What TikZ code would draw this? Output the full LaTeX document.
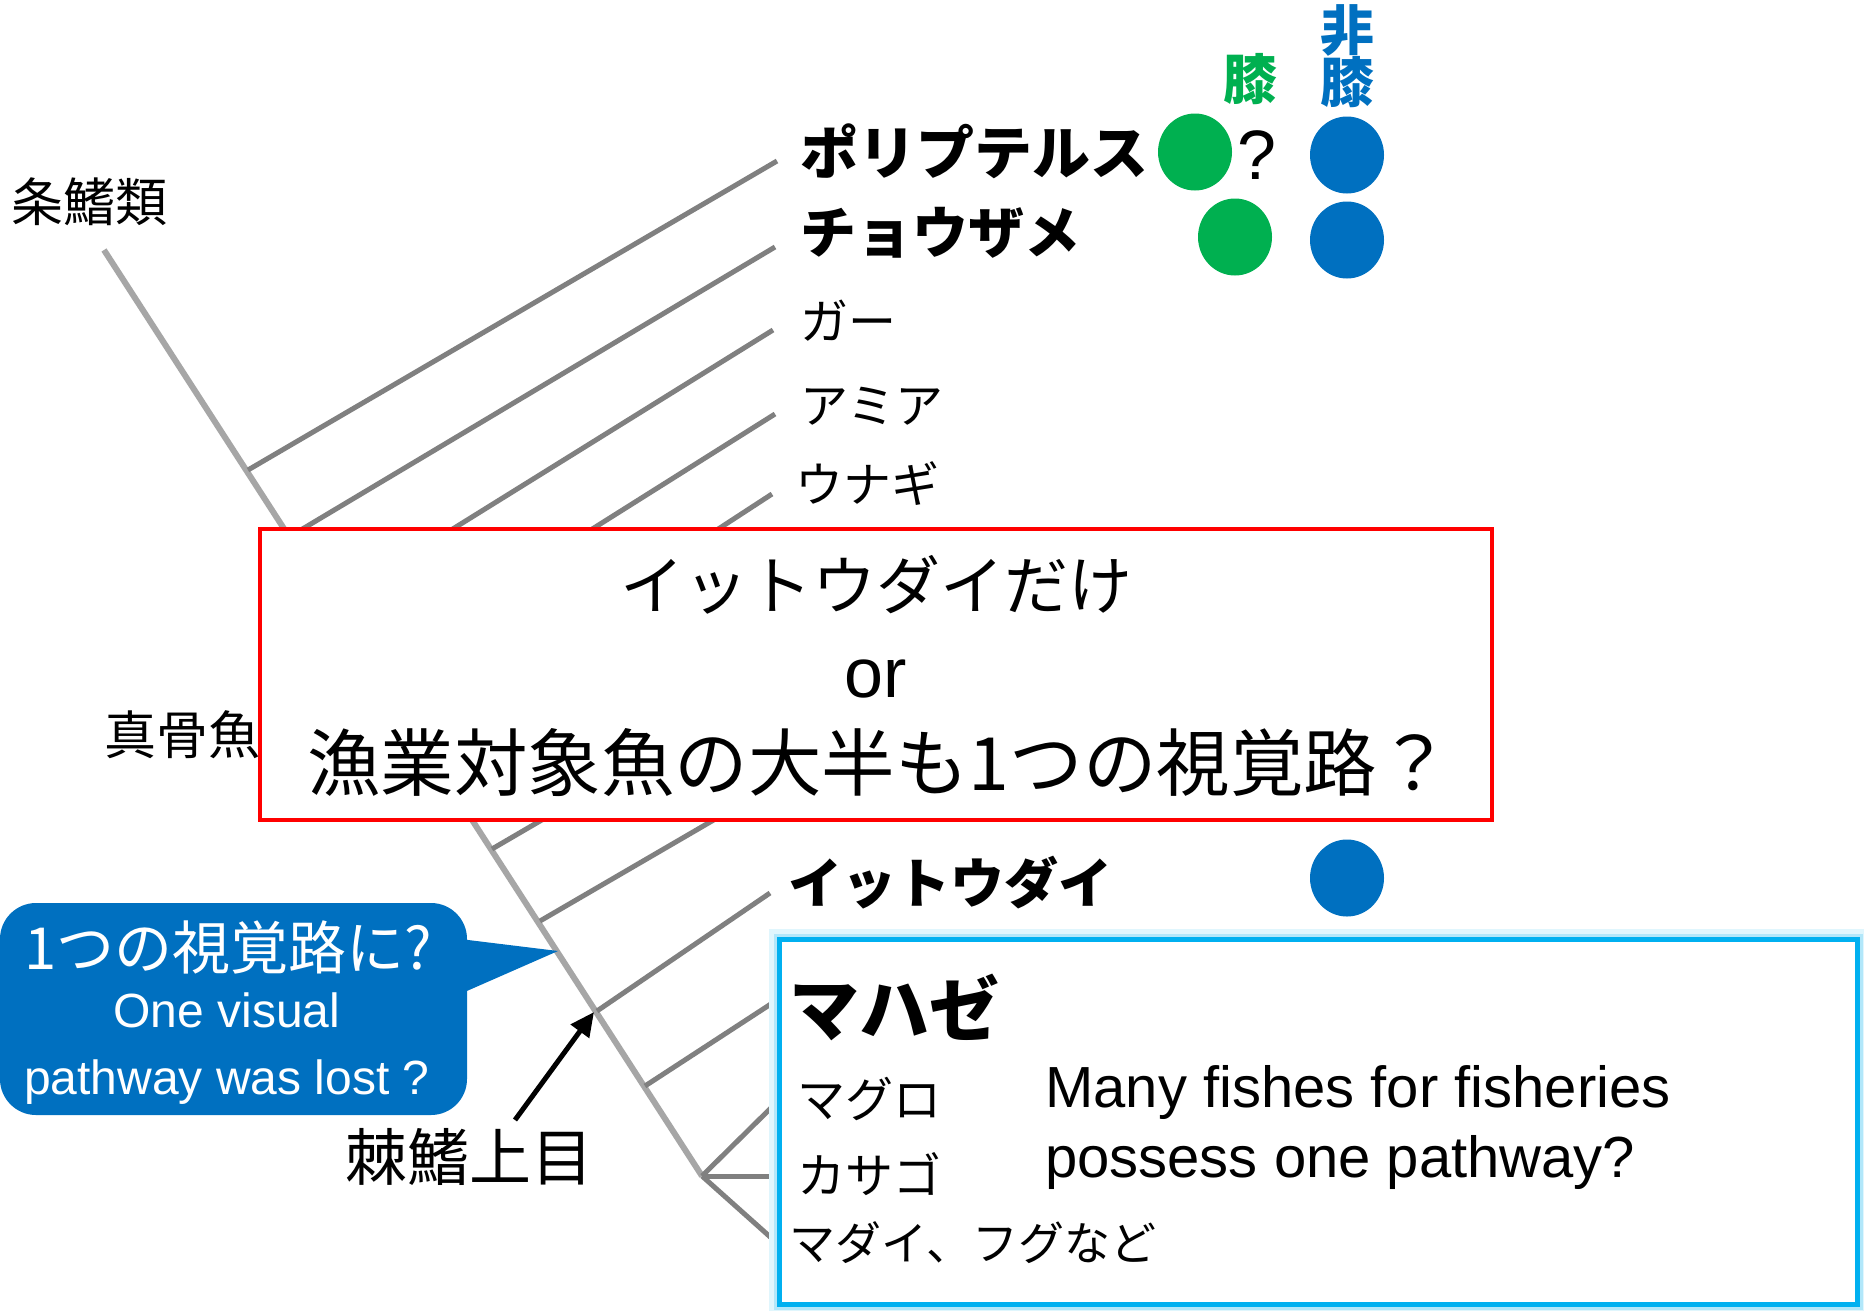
\documentclass[tikz,border=0pt]{standalone}
\usepackage{fontspec}
\setmainfont{Liberation Sans}
\newfontfamily\jp{Noto Sans CJK JP}
\usetikzlibrary{arrows.meta,shapes.geometric}
\definecolor{trunkgray}{HTML}{A6A6A6}
\definecolor{brgray}{HTML}{808080}
\definecolor{boxred}{HTML}{FF0000}
\definecolor{dotgreen}{HTML}{00B050}
\definecolor{dotblue}{HTML}{0070C0}
\definecolor{boxcyan}{HTML}{00B0F0}
\newcommand\fsz[1]{\fontsize{#1}{#1}\selectfont}
\tikzset{
  trunk/.style={draw=trunkgray, line width=6pt},
  branch/.style={draw=brgray, line width=5pt},
  jl/.style={inner sep=0pt, anchor=west, font={\jp\fsz{#1}}},
  jb/.style={inner sep=0pt, anchor=west, font={\jp\bfseries\fsz{#1}}},
  dot/.style={fill=#1, draw=none, ellipse, minimum width=74pt, minimum height=77pt},
}
\begin{document}
\begin{tikzpicture}[x=1pt,y=-1pt]
\useasboundingbox (0,0) rectangle (1864,1310);
\fill[white] (0,0) rectangle (1864,1310);

% trunk
\coordinate (root) at (104,250);
\coordinate (tip) at (702,1176);
\draw[trunk] (root) -- (tip);

% branch points on trunk and tips
\coordinate (n1) at (248,470);  \coordinate (t1) at (777,161);
\coordinate (n2) at (289,537);  \coordinate (t2) at (775,247);
\coordinate (n3) at (332,604);  \coordinate (t3) at (773,330);
\coordinate (n4) at (373,667);  \coordinate (t4) at (775,414);
\coordinate (n5) at (413,728);  \coordinate (t5) at (772,494);
\coordinate (n6) at (492,849);  \coordinate (t6) at (600,786);
\coordinate (n7) at (540,921);  \coordinate (t7) at (760,793);
\coordinate (n8) at (597,1011); \coordinate (t8) at (770,893);
\coordinate (n9) at (645,1086); \coordinate (t9) at (777,1000);
\coordinate (t10) at (779,1100);
\coordinate (t11) at (779,1176);
\coordinate (t12) at (777,1243);
\foreach \i in {1,...,9} {\draw[branch] (n\i) -- (t\i);}
\draw[branch] (tip) -- (t10);
\draw[branch] (tip) -- (t11);
\draw[branch] (tip) -- (t12);

% red question box
\draw[boxred, line width=4pt, fill=white] (260,529) rectangle (1492,820);
\node[inner sep=0pt, font={\jp\fsz{64}}] (q1) at (876,585) {イットウダイだけ};
\node[inner sep=0pt, anchor=base, font=\fsz{70}] (q2) at (876,697) {or};
\node[inner sep=0pt, font={\jp\fsz{73.5}}] (q3) at (879,763) {漁業対象魚の大半も1つの視覚路？};

% cyan box with glow
\draw[boxcyan!12, line width=20pt] (779,939) rectangle (1857,1304);
\draw[boxcyan!30, line width=11pt] (779,939) rectangle (1857,1304);
\draw[boxcyan, line width=5pt, fill=white] (779,939) rectangle (1857,1304);

% callout
\fill[dotblue, rounded corners=36pt] (0,903) rectangle (467,1115);
\fill[dotblue] (460,939) -- (558,951) -- (460,994) -- cycle;
\node[inner sep=0pt, text=white, font={\jp\fsz{58}}] (c1) at (228,947) {1つの視覚路に?};
\node[inner sep=0pt, anchor=base, text=white, font=\fsz{48}] (c2) at (227,1027) {One visual};
\node[inner sep=0pt, anchor=base, text=white, font=\fsz{48}] (c3) at (227,1094) {pathway was lost ?};

% clade labels
\node[jl=52] (l1) at (11,202) {条鰭類};
\node[jl=52] (l2) at (104,735) {真骨魚};
\node[inner sep=0pt, font={\jp\fsz{62}}] (l3) at (469,1157) {棘鰭上目};
\coordinate (atail) at (515,1120);
\coordinate (ahead) at (594,1012);
\draw[line width=5pt, -{Triangle[length=24pt,width=22pt]}] (atail) -- (ahead);

% taxa
\node[jb=58] (s1) at (800,151) {ポリプテルス};
\node[jb=56] (s2) at (800,233) {チョウザメ};
\node[jl=48] (s3) at (800,321) {ガー};
\node[jl=48] (s4) at (800,406) {アミア};
\node[jl=48] (s5) at (795,484) {ウナギ};
\node[jb=54] (s6) at (788,883) {イットウダイ};
\node[jb=70] (s7) at (789,1007) {マハゼ};
\node[jl=48] (s8) at (797,1099) {マグロ};
\node[jl=48] (s9) at (797,1174) {カサゴ};
\node[jl=46] (s10) at (789,1243) {マダイ、フグなど};
\node[inner sep=0pt, anchor=base west, font=\fsz{58}] (m1) at (1045,1107) {Many fishes for fisheries};
\node[inner sep=0pt, anchor=base west, font=\fsz{58}] (m2) at (1045,1177) {possess one pathway?};

% column headers
\node[inner sep=0pt, text=dotgreen, font={\jp\bfseries\fsz{54}}] (h1) at (1250,79) {膝};
\node[inner sep=0pt, text=dotblue, font={\jp\bfseries\fsz{54}}] (h2a) at (1347,30) {非};
\node[inner sep=0pt, text=dotblue, font={\jp\bfseries\fsz{54}}] (h2b) at (1347,82) {膝};

% dots
\node[dot=dotgreen] (g1) at (1195,152) {};
\node[inner sep=0pt, anchor=base, font=\fsz{70}] (qm) at (1257,179) {?};
\node[dot=dotblue] (b1) at (1347,155) {};
\node[dot=dotgreen] (g2) at (1235,237) {};
\node[dot=dotblue] (b2) at (1347,240) {};
\node[dot=dotblue] (b3) at (1347,878) {};
\end{tikzpicture}
\end{document}
